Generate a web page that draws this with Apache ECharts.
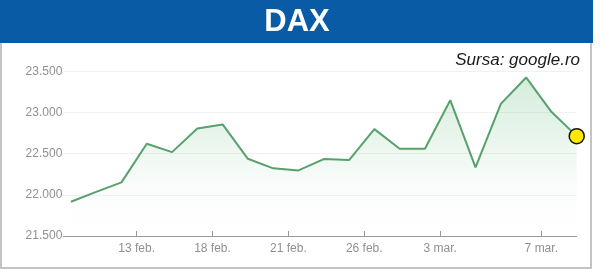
<!DOCTYPE html>
<html>
<head>
<meta charset="utf-8">
<script src="https://cdn.jsdelivr.net/npm/echarts@6/dist/echarts.min.js"></script>
<style>
html,body{margin:0;padding:0;background:#fff;}
#chart{width:600px;height:270px;}
</style>
</head>
<body>
<div id="chart"></div>
<script>
// Trading days (10 feb. .. 10 mar.)
var dates = ['10 feb.','11 feb.','12 feb.','13 feb.','14 feb.','17 feb.','18 feb.','19 feb.','20 feb.','21 feb.',
             '24 feb.','25 feb.','26 feb.','27 feb.','28 feb.','3 mar.','4 mar.','5 mar.','6 mar.','7 mar.','10 mar.'];
var values = [21916, 22035, 22151, 22619, 22518, 22805, 22854, 22437, 22321, 22296,
              22433, 22421, 22797, 22558, 22558, 23148, 22333, 23104, 23424, 23007, 22712];
var tickLabels = ['13 feb.','18 feb.','21 feb.','26 feb.','3 mar.','7 mar.'];
var yTicks = [21500, 22000, 22500, 23000, 23500];

var TICK_SHIFT = 0.4; // axis ticks sit at midnight, before the closing point
var tickIdx = tickLabels.map(function(l){ return dates.indexOf(l); });
var tickVals = tickIdx.map(function(i){ return i - TICK_SHIFT; });
var seriesData = values.map(function(v, i){ return [i, v]; });
var lastIdx = values.length - 1;

function fmtThousands(v){
  var s = String(Math.round(v));
  return s.replace(/\B(?=(\d{3})+(?!\d))/g, '.');
}

var chart = echarts.init(document.getElementById('chart'), null, {renderer:'canvas'});
var labelFont = '"Liberation Sans Narrow", "Arial Narrow", "Liberation Sans", Arial, sans-serif';

chart.setOption({
  animation: false,
  backgroundColor: '#ffffff',
  graphic: [
    { type:'rect', z:-1, shape:{x:1, y:1, width:590, height:267}, style:{fill:'none', stroke:'#c4c4c4', lineWidth:2} },
    { type:'rect', z:0, shape:{x:0, y:0, width:593, height:43}, style:{fill:'#0a5ba6'} }
  ],
  title: [
    { text:'DAX', left:297, top:22, textAlign:'center', textVerticalAlign:'middle', padding:0,
      textStyle:{color:'#ffffff', fontSize:31, fontWeight:'bold', fontFamily:'"Liberation Sans", Arial, sans-serif'} },
    { text:'Sursa: google.ro', right:20, top:52, padding:0,
      textStyle:{color:'#1a1a1a', fontSize:17, fontStyle:'italic', fontWeight:'normal', fontFamily:'"Liberation Sans", Arial, sans-serif'} }
  ],
  grid: { left:63.3, right:23.3, top:71.2, bottom:34, containLabel:false },
  xAxis: {
    type:'value', min:-0.3, max:lastIdx,
    axisLine:{show:true, lineStyle:{color:'#9a9a9a', width:1}},
    axisTick:{show:true, customValues:tickVals, length:5, inside:true, lineStyle:{color:'#9a9a9a'}},
    axisLabel:{show:true, customValues:tickVals, margin:7, color:'#909090', fontSize:12, fontFamily:labelFont,
      formatter:function(v){ var i = Math.round(v + TICK_SHIFT); return dates[i] || ''; }},
    splitLine:{show:false}
  },
  yAxis: {
    type:'value', min:yTicks[0], max:yTicks[yTicks.length-1], interval:500,
    axisLine:{show:false}, axisTick:{show:false},
    axisLabel:{margin:1, color:'#909090', fontSize:12, fontFamily:labelFont, formatter:fmtThousands},
    splitLine:{show:true, lineStyle:{color:'#f1f1f1', width:1}}
  },
  series: [
    {
      type:'line', data:seriesData, showSymbol:false, symbol:'none',
      lineStyle:{color:'#58a06c', width:2},
      areaStyle:{
        color:new echarts.graphic.LinearGradient(0,0,0,1,[
          {offset:0, color:'rgba(95,185,120,0.38)'},
          {offset:0.7, color:'rgba(95,185,120,0.04)'},
          {offset:1, color:'rgba(95,185,120,0.0)'}
        ])
      },
      z:2
    },
    {
      type:'scatter', data:[seriesData[lastIdx]], symbol:'circle', symbolSize:15,
      itemStyle:{color:'#ffe800', borderColor:'#111111', borderWidth:1.5, opacity:1},
      z:5
    }
  ]
});
</script>
</body>
</html>
